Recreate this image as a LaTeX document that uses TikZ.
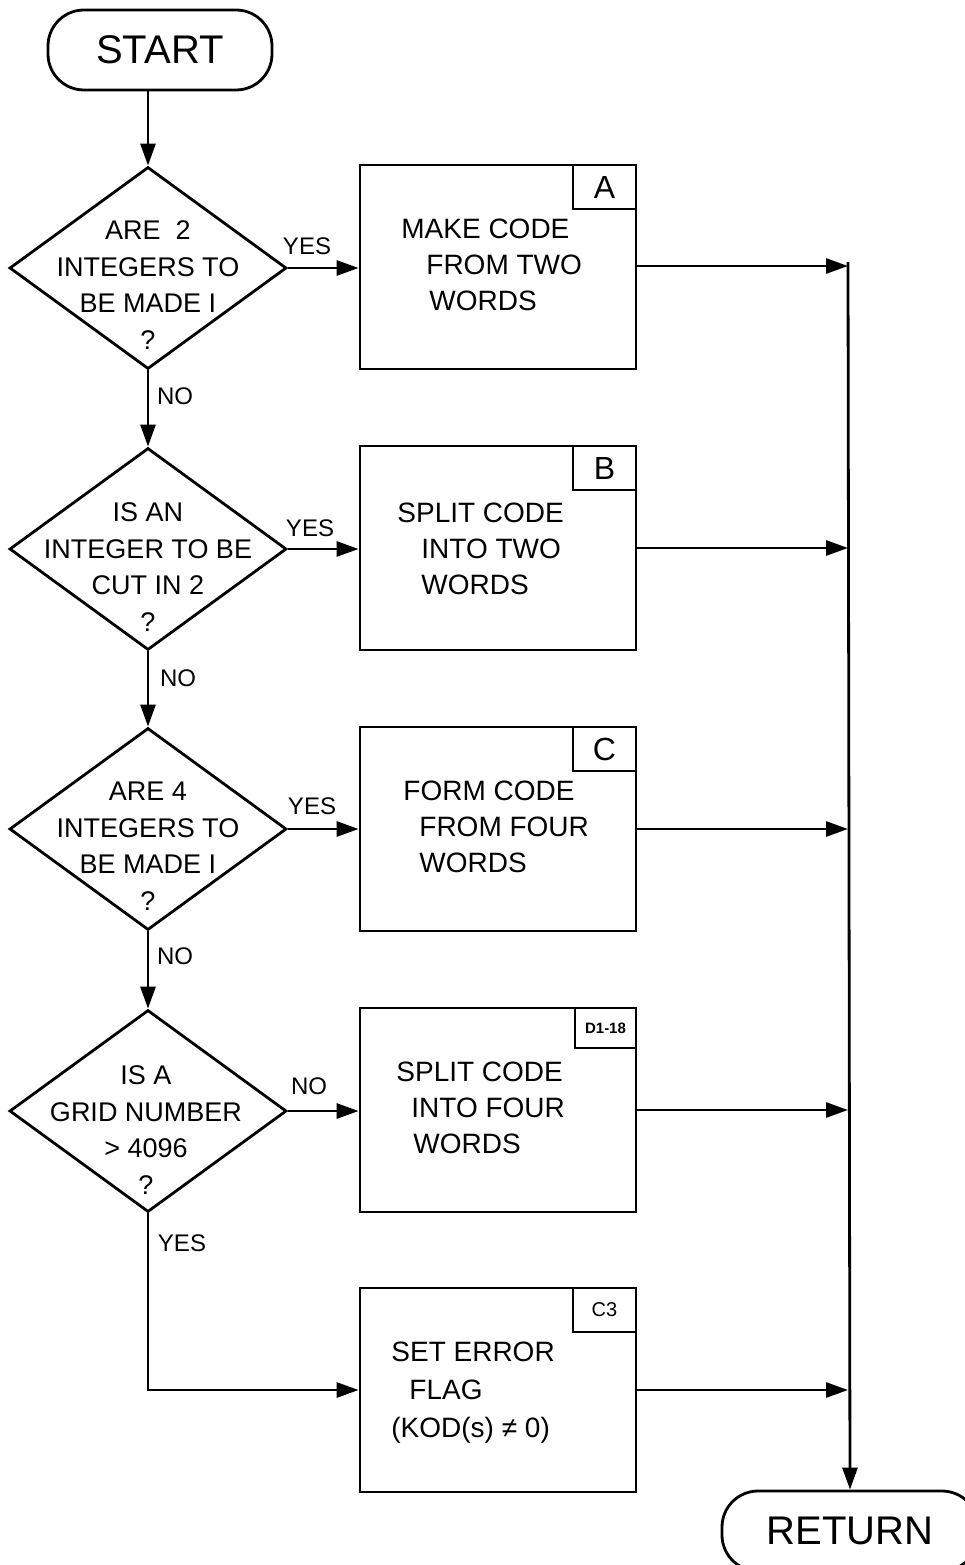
\documentclass[tikz,border=0pt]{standalone}
\usepackage{fontspec}
\setmainfont{Liberation Sans}
\usetikzlibrary{shapes.geometric,arrows.meta}
\begin{document}
\begin{tikzpicture}[x=1pt,y=-1pt,
  line width=2.8pt,
  arr/.style={-{Triangle[length=22pt,width=15pt]}},
  term/.style={draw,rounded corners=36pt,minimum width=224pt,minimum height=80pt,inner sep=0pt,font=\fontsize{40}{42}\selectfont},
  dec/.style={draw,diamond,minimum width=277pt,minimum height=202pt,inner sep=0pt},
  dectext/.style={align=center,inner sep=0pt,font=\fontsize{27}{36.5}\selectfont},
  proc/.style={draw,minimum width=276pt,minimum height=204pt,inner sep=0pt},
  proctext/.style={align=left,anchor=west,inner sep=0pt,font=\fontsize{28}{36}\selectfont},
  tag/.style={draw,anchor=north east,minimum width=63pt,minimum height=44pt,inner sep=0pt,font=\fontsize{32}{34}\selectfont},
  lbl/.style={inner sep=0pt,font=\fontsize{24}{26}\selectfont}]
\useasboundingbox (0,0) rectangle (964,1565);

% terminals
\node[term] (start) at (160,50) {START};
\node[term,minimum width=256pt] (ret) at (850,1531) {RETURN};

% decisions
\node[dec] (d1) at (148,268) {};
\node[dectext] (t1) at (148,285) {ARE\ \ 2\\INTEGERS TO\\BE MADE I\\?};
\node[dec] (d2) at (148,549) {};
\node[dectext] (t2) at (148,567) {IS AN\\INTEGER TO BE\\CUT IN 2\\?};
\node[dec] (d3) at (148,829) {};
\node[dectext] (t3) at (148,846) {ARE 4\\INTEGERS TO\\BE MADE I\\?};
\node[dec] (d4) at (148,1111) {};
\node[dectext] (t4) at (146,1130) {IS A\\GRID NUMBER\\> 4096\\?};

% processes
\node[proc] (pa) at (498,267) {};
\node[tag] (ta) at (pa.north east) {A};
\node[proctext] (xa) at (400,265) {MAKE CODE\\\hspace{25pt}FROM TWO\\\hspace{28pt}WORDS};

\node[proc] (pb) at (498,548) {};
\node[tag] (tb) at (pb.north east) {B};
\node[proctext] (xb) at (396,549) {SPLIT CODE\\\hspace{24pt}INTO TWO\\\hspace{24pt}WORDS};

\node[proc] (pc) at (498,829) {};
\node[tag] (tc) at (pc.north east) {C};
\node[proctext] (xc) at (402,827) {FORM CODE\\\hspace{16pt}FROM FOUR\\\hspace{16pt}WORDS};

\node[proc] (pd) at (498,1110) {};
\node[tag,minimum width=61pt,minimum height=40pt,font=\bfseries\fontsize{15}{16}\selectfont] (td) at (pd.north east) {D1-18};
\node[proctext] (xd) at (395,1108) {SPLIT CODE\\\hspace{15pt}INTO FOUR\\\hspace{17pt}WORDS};

\node[proc] (pe) at (498,1390) {};
\node[tag,font=\fontsize{20}{22}\selectfont] (te) at (pe.north east) {C3};
\node[proctext,font=\fontsize{28}{38}\selectfont] (xe) at (390,1393) {SET ERROR\\\hspace{18pt}FLAG\\(KOD(s) ≠ 0)};

% junctions on the collector line
\coordinate (j1) at (848,266);
\coordinate (j2) at (848,548);
\coordinate (j3) at (848,829);
\coordinate (j4) at (848,1110);
\coordinate (j5) at (848,1390);
\coordinate (jtop) at (848,262);
\coordinate (bend) at (148,1390);

% main flow
\draw[arr] (start.south -| d1.north) -- (d1.north);
\draw[arr] (d1.south) -- (d2.north);
\draw[arr] (d2.south) -- (d3.north);
\draw[arr] (d3.south) -- (d4.north);
\draw[arr] (d4.south) -- (bend) -- (pe.west);

\draw[arr] (d1.east) -- (d1.east -| pa.west);
\draw[arr] (d2.east) -- (d2.east -| pb.west);
\draw[arr] (d3.east) -- (d3.east -| pc.west);
\draw[arr] (d4.east) -- (d4.east -| pd.west);

\draw[arr] (j1 -| pa.east) -- (j1);
\draw[arr] (j2 -| pb.east) -- (j2);
\draw[arr] (j3 -| pc.east) -- (j3);
\draw[arr] (j4 -| pd.east) -- (j4);
\draw[arr] (j5 -| pe.east) -- (j5);
\draw[arr] (jtop) -- (ret.north);

% branch labels
\node[lbl] (y1) at (307,246) {YES};
\node[lbl] (n1) at (175,396) {NO};
\node[lbl] (y2) at (310,528) {YES};
\node[lbl] (n2) at (178,678) {NO};
\node[lbl] (y3) at (312,806) {YES};
\node[lbl] (n3) at (175,956) {NO};
\node[lbl] (n4) at (309,1086) {NO};
\node[lbl] (y4) at (182,1243) {YES};
\end{tikzpicture}
\end{document}
